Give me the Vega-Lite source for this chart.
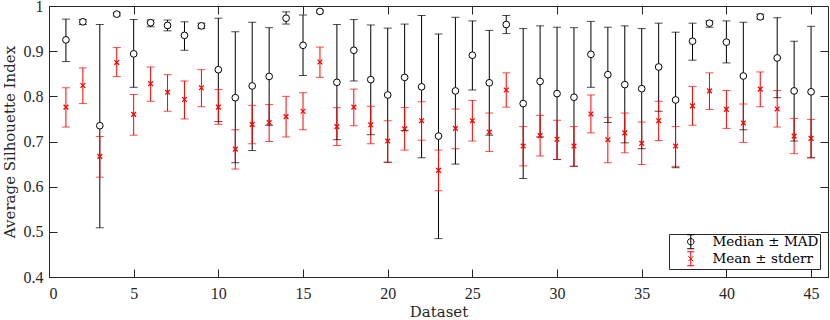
{
  "$schema": "https://vega.github.io/schema/vega-lite/v6.json",
  "autosize": "none",
  "width": 779,
  "height": 271,
  "padding": {"left": 49, "top": 6, "right": 2, "bottom": 43},
  "background": "white",
  "view": {"stroke": "#262626", "strokeWidth": 1},
  "datasets": {
    "med": [
      {"d":1,"c":0.925,"lo":0.877,"hi":0.971},{"d":2,"c":0.965,"lo":0.959,"hi":0.970},{"d":3,"c":0.735,"lo":0.509,"hi":0.959},
      {"d":4,"c":0.982,"lo":0.978,"hi":0.985},{"d":5,"c":0.894,"lo":0.820,"hi":0.970},{"d":6,"c":0.963,"lo":0.954,"hi":0.969},
      {"d":7,"c":0.957,"lo":0.945,"hi":0.969},{"d":8,"c":0.935,"lo":0.902,"hi":0.965},{"d":9,"c":0.956,"lo":0.950,"hi":0.962},
      {"d":10,"c":0.859,"lo":0.744,"hi":0.973},{"d":11,"c":0.797,"lo":0.653,"hi":0.943},{"d":12,"c":0.823,"lo":0.680,"hi":0.964},
      {"d":13,"c":0.844,"lo":0.736,"hi":0.952},{"d":14,"c":0.973,"lo":0.960,"hi":0.987},{"d":15,"c":0.913,"lo":0.846,"hi":0.980},
      {"d":16,"c":0.988,"lo":0.985,"hi":0.991},{"d":17,"c":0.831,"lo":0.704,"hi":0.959},{"d":18,"c":0.902,"lo":0.834,"hi":0.970},
      {"d":19,"c":0.837,"lo":0.715,"hi":0.958},{"d":20,"c":0.803,"lo":0.654,"hi":0.951},{"d":21,"c":0.842,"lo":0.724,"hi":0.960},
      {"d":22,"c":0.821,"lo":0.664,"hi":0.979},{"d":23,"c":0.712,"lo":0.485,"hi":0.938},{"d":24,"c":0.812,"lo":0.650,"hi":0.975},
      {"d":25,"c":0.891,"lo":0.814,"hi":0.967},{"d":26,"c":0.830,"lo":0.714,"hi":0.946},{"d":27,"c":0.959,"lo":0.939,"hi":0.979},
      {"d":28,"c":0.784,"lo":0.618,"hi":0.950},{"d":29,"c":0.833,"lo":0.710,"hi":0.956},{"d":30,"c":0.806,"lo":0.660,"hi":0.953},
      {"d":31,"c":0.798,"lo":0.645,"hi":0.952},{"d":32,"c":0.893,"lo":0.820,"hi":0.966},{"d":33,"c":0.848,"lo":0.742,"hi":0.953},
      {"d":34,"c":0.826,"lo":0.697,"hi":0.956},{"d":35,"c":0.817,"lo":0.684,"hi":0.950},{"d":36,"c":0.865,"lo":0.767,"hi":0.962},
      {"d":37,"c":0.792,"lo":0.642,"hi":0.942},{"d":38,"c":0.922,"lo":0.880,"hi":0.962},{"d":39,"c":0.962,"lo":0.953,"hi":0.967},
      {"d":40,"c":0.920,"lo":0.874,"hi":0.967},{"d":41,"c":0.845,"lo":0.726,"hi":0.964},{"d":42,"c":0.976,"lo":0.971,"hi":0.982},
      {"d":43,"c":0.885,"lo":0.797,"hi":0.974},{"d":44,"c":0.812,"lo":0.701,"hi":0.922},{"d":45,"c":0.810,"lo":0.664,"hi":0.955}
    ],
    "mean": [
      {"d":1,"c":0.776,"lo":0.732,"hi":0.819},{"d":2,"c":0.824,"lo":0.784,"hi":0.863},{"d":3,"c":0.667,"lo":0.621,"hi":0.711},
      {"d":4,"c":0.875,"lo":0.844,"hi":0.908},{"d":5,"c":0.760,"lo":0.714,"hi":0.804},{"d":6,"c":0.828,"lo":0.789,"hi":0.865},
      {"d":7,"c":0.809,"lo":0.767,"hi":0.848},{"d":8,"c":0.793,"lo":0.750,"hi":0.834},{"d":9,"c":0.819,"lo":0.777,"hi":0.859},
      {"d":10,"c":0.776,"lo":0.738,"hi":0.815},{"d":11,"c":0.683,"lo":0.639,"hi":0.726},{"d":12,"c":0.738,"lo":0.695,"hi":0.780},
      {"d":13,"c":0.742,"lo":0.700,"hi":0.782},{"d":14,"c":0.755,"lo":0.710,"hi":0.800},{"d":15,"c":0.767,"lo":0.726,"hi":0.808},
      {"d":16,"c":0.876,"lo":0.842,"hi":0.909},{"d":17,"c":0.733,"lo":0.691,"hi":0.775},{"d":18,"c":0.776,"lo":0.735,"hi":0.816},
      {"d":19,"c":0.737,"lo":0.695,"hi":0.778},{"d":20,"c":0.701,"lo":0.654,"hi":0.746},{"d":21,"c":0.728,"lo":0.681,"hi":0.775},
      {"d":22,"c":0.746,"lo":0.703,"hi":0.788},{"d":23,"c":0.636,"lo":0.591,"hi":0.681},{"d":24,"c":0.729,"lo":0.684,"hi":0.772},
      {"d":25,"c":0.746,"lo":0.701,"hi":0.791},{"d":26,"c":0.721,"lo":0.678,"hi":0.763},{"d":27,"c":0.814,"lo":0.776,"hi":0.852},
      {"d":28,"c":0.690,"lo":0.646,"hi":0.733},{"d":29,"c":0.713,"lo":0.668,"hi":0.758},{"d":30,"c":0.705,"lo":0.660,"hi":0.747},
      {"d":31,"c":0.690,"lo":0.645,"hi":0.733},{"d":32,"c":0.761,"lo":0.719,"hi":0.803},{"d":33,"c":0.704,"lo":0.653,"hi":0.753},
      {"d":34,"c":0.719,"lo":0.675,"hi":0.763},{"d":35,"c":0.696,"lo":0.649,"hi":0.743},{"d":36,"c":0.746,"lo":0.702,"hi":0.789},
      {"d":37,"c":0.690,"lo":0.645,"hi":0.733},{"d":38,"c":0.779,"lo":0.736,"hi":0.822},{"d":39,"c":0.812,"lo":0.771,"hi":0.852},
      {"d":40,"c":0.771,"lo":0.729,"hi":0.813},{"d":41,"c":0.741,"lo":0.698,"hi":0.783},{"d":42,"c":0.816,"lo":0.777,"hi":0.854},
      {"d":43,"c":0.772,"lo":0.732,"hi":0.813},{"d":44,"c":0.712,"lo":0.673,"hi":0.751},{"d":45,"c":0.707,"lo":0.664,"hi":0.749}
    ]
  },
  "layer": [
    {
      "data": {"name": "med"},
      "mark": {"type": "rule", "strokeWidth": 1},
      "encoding": {
        "x": {"field": "d", "type": "quantitative", "scale": {"domain": [0, 46], "nice": false},
          "axis": {"values": [0,5,10,15,20,25,30,35,40,45], "format": "d", "title": "Dataset", "tickSize": -8, "labelPadding": 16,
            "grid": false, "domainColor": "#262626", "tickColor": "#262626", "labelColor": "#262626",
            "labelFont": "Liberation Serif", "labelFontSize": 16, "titleFont": "DejaVu Serif", "titleFontSize": 15,
            "titleFontWeight": "normal", "titleColor": "#262626", "titlePadding": 3}},
        "y": {"field": "lo", "type": "quantitative", "scale": {"domain": [0.4, 1], "nice": false},
          "axis": {"values": [0.4,0.5,0.6,0.7,0.8,0.9,1], "format": ".1~f", "title": "Average Silhouette Index", "tickSize": -8, "labelPadding": 14,
            "grid": false, "domainColor": "#262626", "tickColor": "#262626", "labelColor": "#262626",
            "labelFont": "Liberation Serif", "labelFontSize": 16, "titleFont": "DejaVu Serif", "titleFontSize": 15,
            "titleFontWeight": "normal", "titleColor": "#262626", "titlePadding": 6}},
        "y2": {"field": "hi"},
        "color": {"datum": "Median ± MAD", "type": "nominal",
          "scale": {"domain": ["Median ± MAD", "Mean ± stderr"], "range": ["#000000", "#ff0000"]},
          "legend": {"title": null, "orient": "bottom-right", "offset": 8, "padding": 1, "rowPadding": -2,
            "strokeColor": "#262626", "fillColor": "white", "symbolSize": 100, "symbolOffset": 14, "labelOffset": 15,
            "labelFont": "DejaVu Serif", "labelFontSize": 13.5, "labelColor": "#000000",
            "values": ["Median ± MAD", "Mean ± stderr"],
            "encode": {"symbols": {"update": {
              "shape": {"signal": "datum.value == 'Median ± MAD' ? 'M0,-1.4V-0.65M0,0.65V1.4M-0.7,-1.4H0.7M-0.7,1.4H0.7M0.65,0L0.563,0.325L0.325,0.563L0,0.65L-0.325,0.563L-0.563,0.325L-0.65,0L-0.563,-0.325L-0.325,-0.563L0,-0.65L0.325,-0.563L0.563,-0.325ZM0,-0.65V0.65' : 'M0,-1.4V1.4M-0.7,-1.4H0.7M-0.7,1.4H0.7M-0.5,-0.5L0.5,0.5M-0.5,0.5L0.5,-0.5'"},
              "stroke": {"signal": "datum.value == 'Median ± MAD' ? '#000000' : '#ff0000'"},
              "fill": {"value": "white"},
              "fillOpacity": {"value": 0},
              "strokeWidth": {"value": 1},
              "size": {"value": 100},
              "opacity": {"value": 1}
            }}}}}
      }
    },
    {
      "data": {"name": "mean"},
      "mark": {"type": "rule", "strokeWidth": 1},
      "encoding": {
        "x": {"field": "d", "type": "quantitative", "axis": null},
        "y": {"field": "lo", "type": "quantitative", "axis": null},
        "y2": {"field": "hi"},
        "color": {"datum": "Mean ± stderr", "type": "nominal"}
      }
    },
    {
      "data": {"name": "med"},
      "mark": {"type": "tick", "orient": "horizontal", "size": 8, "thickness": 1},
      "encoding": {
        "x": {"field": "d", "type": "quantitative", "axis": null},
        "y": {"field": "lo", "type": "quantitative", "axis": null},
        "color": {"datum": "Median ± MAD", "type": "nominal"}
      }
    },
    {
      "data": {"name": "med"},
      "mark": {"type": "tick", "orient": "horizontal", "size": 8, "thickness": 1},
      "encoding": {
        "x": {"field": "d", "type": "quantitative",
          "axis": {"orient": "top", "values": [0,5,10,15,20,25,30,35,40,45], "labels": false, "title": null, "domain": false, "tickSize": -8, "tickColor": "#262626", "grid": false}},
        "y": {"field": "hi", "type": "quantitative",
          "axis": {"orient": "right", "values": [0.4,0.5,0.6,0.7,0.8,0.9,1], "labels": false, "title": null, "domain": false, "tickSize": -8, "tickColor": "#262626", "grid": false}},
        "color": {"datum": "Median ± MAD", "type": "nominal"}
      }
    },
    {
      "data": {"name": "mean"},
      "mark": {"type": "tick", "orient": "horizontal", "size": 8, "thickness": 1},
      "encoding": {
        "x": {"field": "d", "type": "quantitative", "axis": null},
        "y": {"field": "lo", "type": "quantitative", "axis": null},
        "color": {"datum": "Mean ± stderr", "type": "nominal"}
      }
    },
    {
      "data": {"name": "mean"},
      "mark": {"type": "tick", "orient": "horizontal", "size": 8, "thickness": 1},
      "encoding": {
        "x": {"field": "d", "type": "quantitative", "axis": null},
        "y": {"field": "hi", "type": "quantitative", "axis": null},
        "color": {"datum": "Mean ± stderr", "type": "nominal"}
      }
    },
    {
      "data": {"name": "med"},
      "mark": {"type": "point", "shape": "circle", "filled": false, "fill": "white", "fillOpacity": 1, "opacity": 1, "size": 45, "strokeWidth": 1},
      "encoding": {
        "x": {"field": "d", "type": "quantitative", "axis": null},
        "y": {"field": "c", "type": "quantitative", "axis": null},
        "color": {"datum": "Median ± MAD", "type": "nominal"}
      }
    },
    {
      "data": {"name": "mean"},
      "mark": {"type": "point", "shape": "M-0.7,-0.7L0.7,0.7M-0.7,0.7L0.7,-0.7", "filled": false, "opacity": 1, "size": 45, "strokeWidth": 1.3},
      "encoding": {
        "x": {"field": "d", "type": "quantitative", "axis": null},
        "y": {"field": "c", "type": "quantitative", "axis": null},
        "color": {"datum": "Mean ± stderr", "type": "nominal"}
      }
    }
  ],
  "resolve": {"axis": {"x": "independent", "y": "independent"}},
  "config": {"axis": {"grid": false}}
}
